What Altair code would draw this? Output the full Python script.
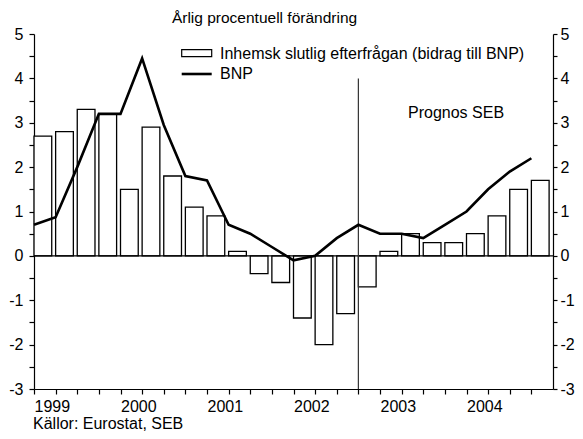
import altair as alt
import pandas as pd

# ---- data ----
years = ["1999", "2000", "2001", "2002", "2003", "2004"]
quarters = [f"{y}K{q}" for y in years for q in range(1, 5)]
demand = [2.7, 2.8, 3.3, 3.2, 1.5, 2.9, 1.8, 1.1,
          0.9, 0.1, -0.4, -0.6, -1.4, -2.0, -1.3, -0.7,
          0.1, 0.5, 0.3, 0.3, 0.5, 0.9, 1.5, 1.7]
gdp = [0.7, 0.87, 2.0, 3.2, 3.2, 4.45, 2.95, 1.8,
       1.7, 0.7, 0.5, 0.2, -0.1, 0.0, 0.4, 0.7,
       0.5, 0.5, 0.4, 0.7, 1.0, 1.5, 1.9, 2.2]
forecast_start = "2002K4"
forecast_top = 4.0
y_min, y_max = -3, 5

subtitle = "Årlig procentuell förändring"
legend_bar = "Inhemsk slutlig efterfrågan (bidrag till BNP)"
legend_line = "BNP"
forecast_label = "Prognos SEB"
source = "Källor: Eurostat, SEB"

FONT = "Liberation Sans"
FS = 16
W, H = 519, 355

df = pd.DataFrame({"kvartal": quarters, "efterfragan": demand, "bnp": gdp})
df["k"] = range(len(quarters))
df["k2"] = df["k"] + 0.82
df["noll"] = 0.0

xs = alt.Scale(domain=[0, len(quarters)], nice=False, zero=False)
ys = alt.Scale(domain=[y_min, y_max], nice=False, zero=False)

year_arr = "[" + ",".join(f"'{y}'" for y in years) + "]"
x_axis = alt.Axis(
    values=list(range(len(quarters))),
    labelExpr=f"datum.value % 4 == 0 ? {year_arr}[datum.value / 4] : ''",
    labelAlign="left", labelPadding=4, tickSize=5, title=None,
    labelFlush=False, labelOverlap=False,
)
y_vals = [y_min + 0.5 * i for i in range(int((y_max - y_min) * 2) + 1)]
y_label = "datum.value % 1 == 0 ? toString(datum.value) : ''"
y_left = alt.Axis(orient="left", values=y_vals, labelExpr=y_label, tickSize=5,
                  labelPadding=6, title=None, labelOverlap=False)
y_right = alt.Axis(orient="right", values=y_vals, labelExpr=y_label, tickSize=4,
                   labelPadding=3, title=None, labelOverlap=False)

bars = alt.Chart(df).mark_rect(fill="white", stroke="black", strokeWidth=1.3).encode(
    x=alt.X("k:Q", scale=xs, axis=x_axis),
    x2="k2:Q",
    y=alt.Y("efterfragan:Q", scale=ys, axis=y_left),
    y2="noll:Q",
)

line = alt.Chart(df).mark_line(color="black", strokeWidth=2.6).encode(
    x=alt.X("k:Q", scale=xs, axis=x_axis),
    y=alt.Y("bnp:Q", scale=ys, axis=y_right),
)

zero = alt.Chart(pd.DataFrame({"v": [0.0]})).mark_rule(color="black", strokeWidth=1.2).encode(
    y=alt.Y("v:Q", scale=ys, axis=None),
)

fk = quarters.index(forecast_start)
divider_df = pd.DataFrame({"k": [fk], "top": [forecast_top], "bottom": [y_min]})
divider = alt.Chart(divider_df).mark_rule(color="#333333", strokeWidth=1.2).encode(
    x=alt.X("k:Q", scale=xs, axis=x_axis),
    y=alt.Y("top:Q", scale=ys, axis=None),
    y2="bottom:Q",
)

one = pd.DataFrame({"a": [0]})

def txt(s, x, y, align="left", size=FS):
    return alt.Chart(one).mark_text(
        text=s, align=align, baseline="middle", font=FONT, fontSize=size, color="black"
    ).encode(x=alt.value(x), y=alt.value(y))

leg_box = alt.Chart(one).mark_rect(fill="white", stroke="black", strokeWidth=1.2).encode(
    x=alt.value(147.7), x2=alt.value(177.7), y=alt.value(15.7), y2=alt.value(22.6)
)
leg_line = alt.Chart(one).mark_rule(color="black", strokeWidth=2.6).encode(
    x=alt.value(147.7), x2=alt.value(177.7), y=alt.value(40)
)

chart = alt.layer(
    bars, zero, divider, line,
    leg_box, leg_line,
    txt(legend_bar, 186, 19.7),
    txt(legend_line, 186, 39.5),
    txt(forecast_label, 374, 79),
    txt(subtitle, 230.5, -16.5, align="center", size=15.5),
    txt(source, -1, 390),
).resolve_axis(y="independent").properties(
    width=W, height=H,
    autosize=alt.AutoSizeParams(type="none"),
    padding={"left": 26, "top": 26, "right": 22, "bottom": 42},
).configure_view(stroke=None).configure_axis(
    domainColor="black", tickColor="black", labelColor="black",
    labelFont=FONT, labelFontSize=FS, grid=False, domainWidth=1.2, tickWidth=1.2,
)

chart.save("out.html", embed_options={"renderer": "svg", "actions": False})
